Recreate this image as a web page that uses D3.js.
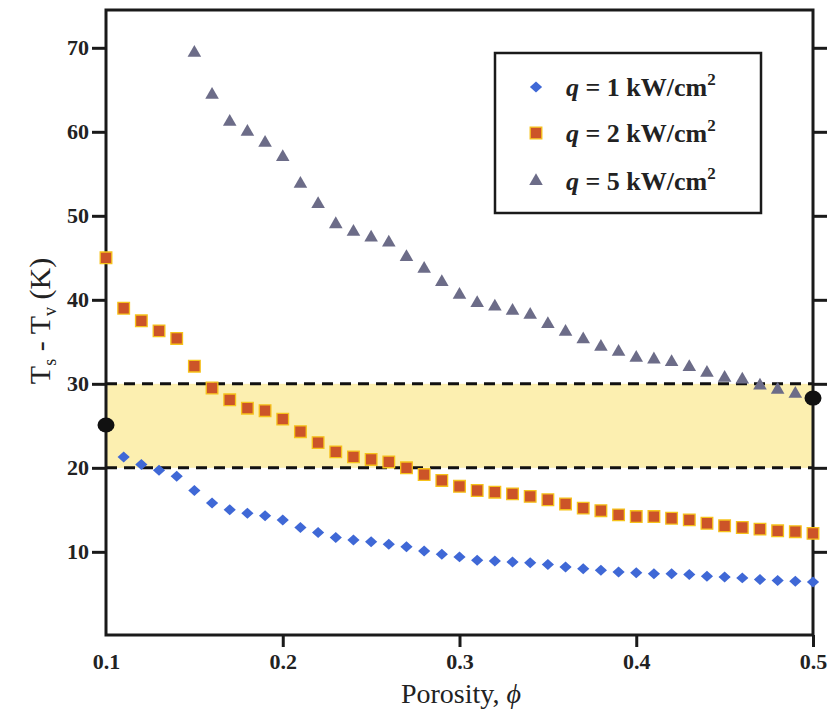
<!DOCTYPE html>
<html><head><meta charset="utf-8">
<script src="https://cdn.jsdelivr.net/npm/d3@7"></script>
<style>body{margin:0;background:#fff}</style>
</head><body>
<script>
const porosity1 = [0.11,0.12,0.13,0.14,0.15,0.16,0.17,0.18,0.19,0.20,0.21,0.22,0.23,0.24,0.25,0.26,0.27,0.28,0.29,0.30,0.31,0.32,0.33,0.34,0.35,0.36,0.37,0.38,0.39,0.40,0.41,0.42,0.43,0.44,0.45,0.46,0.47,0.48,0.49,0.50];
const q1 = [21.3,20.4,19.7,19.0,17.3,15.8,15.0,14.6,14.3,13.8,12.9,12.3,11.7,11.4,11.2,10.9,10.6,10.1,9.7,9.4,9.0,8.9,8.8,8.7,8.5,8.2,8.0,7.8,7.6,7.5,7.4,7.4,7.3,7.1,7.0,6.9,6.7,6.6,6.5,6.4];
const porosity2 = [0.10,0.11,0.12,0.13,0.14,0.15,0.16,0.17,0.18,0.19,0.20,0.21,0.22,0.23,0.24,0.25,0.26,0.27,0.28,0.29,0.30,0.31,0.32,0.33,0.34,0.35,0.36,0.37,0.38,0.39,0.40,0.41,0.42,0.43,0.44,0.45,0.46,0.47,0.48,0.49,0.50];
const q2 = [45.0,39.0,37.5,36.3,35.4,32.1,29.5,28.1,27.1,26.8,25.8,24.3,23.0,21.9,21.3,21.0,20.7,20.0,19.2,18.5,17.8,17.3,17.1,16.9,16.6,16.2,15.7,15.2,14.9,14.4,14.2,14.2,14.0,13.8,13.4,13.1,12.9,12.7,12.5,12.4,12.2];
const porosity5 = [0.15,0.16,0.17,0.18,0.19,0.20,0.21,0.22,0.23,0.24,0.25,0.26,0.27,0.28,0.29,0.30,0.31,0.32,0.33,0.34,0.35,0.36,0.37,0.38,0.39,0.40,0.41,0.42,0.43,0.44,0.45,0.46,0.47,0.48,0.49];
const q5 = [69.4,64.4,61.2,60.0,58.7,57.0,53.8,51.4,49.0,48.1,47.4,46.8,45.1,43.7,42.1,40.6,39.6,39.2,38.7,38.2,37.1,36.2,35.3,34.4,33.8,33.1,32.9,32.6,32.0,31.3,30.7,30.5,29.8,29.3,28.8];
const bandRange = [20, 30];
const endPointsX = [0.1, 0.5];
const endPointsY = [25.1, 28.3];
const xTicks = [0.1, 0.2, 0.3, 0.4, 0.5];
const yTicks = [10, 20, 30, 40, 50, 60, 70];
const legendLabels = ["1", "2", "5"];

const W = 831, H = 710;
const L = 106, R = 813, T = 10, B = 635;
const svg = d3.select("body").append("svg").attr("width", W).attr("height", H);
const x = d3.scaleLinear().domain([0.1, 0.5]).range([L, R]);
const y = d3.scaleLinear().domain([0.1, 74.5]).range([B, T]);
const serif = "'Liberation Serif','Times New Roman',serif";

// band
svg.append("rect").attr("x", x(0.1)).attr("y", y(bandRange[1])).attr("width", x(0.5) - x(0.1))
  .attr("height", y(bandRange[0]) - y(bandRange[1])).attr("fill", "#fcefb0");

// dashed lines
bandRange.forEach(v => {
  svg.append("line").attr("x1", x(0.1)).attr("x2", x(0.5)).attr("y1", y(v)).attr("y2", y(v))
    .attr("stroke", "#111").attr("stroke-width", 3).attr("stroke-dasharray", "11,7");
});

// frame
svg.append("rect").attr("x", L).attr("y", T).attr("width", R - L).attr("height", B - T)
  .attr("fill", "none").attr("stroke", "#1a1a1a").attr("stroke-width", 3);

// axes
const yAxisL = svg.append("g").attr("transform", `translate(${L},0)`)
  .call(d3.axisLeft(y).tickValues(yTicks).tickSize(14).tickPadding(3).tickFormat(d3.format("d")));
const yAxisR = svg.append("g").attr("transform", `translate(${R},0)`)
  .call(d3.axisRight(y).tickValues(yTicks).tickSize(14).tickFormat(""));
const xAxis = svg.append("g").attr("transform", `translate(0,${B})`)
  .call(d3.axisBottom(x).tickValues(xTicks).tickSize(12).tickPadding(6).tickFormat(d3.format(".1f")));
[yAxisL, yAxisR, xAxis].forEach(g => {
  g.select(".domain").remove();
  g.selectAll(".tick line").attr("stroke", "#1a1a1a").attr("stroke-width", 3);
  g.selectAll("text").attr("font-family", serif).attr("font-weight", "bold").attr("font-size", 22).attr("fill", "#222");
});
xAxis.selectAll(".tick line").filter(d => d === 0.1).remove();

// series
const ptsBlue = porosity1.map((p, i) => [p, q1[i]]);
const ptsOrange = porosity2.map((p, i) => [p, q2[i]]);
const ptsGrey = porosity5.map((p, i) => [p, q5[i]]);
const diamond = d3.symbol().type(d3.symbolDiamond2).size(95);
const square = d3.symbol().type(d3.symbolSquare).size(135);
const tri = d3.symbol().type(d3.symbolTriangle).size(80);

function drawBlue(g, pts) {
  g.selectAll(null).data(pts).enter().append("path").attr("d", diamond)
    .attr("transform", d => `translate(${x(d[0])},${y(d[1])}) scale(1,0.9)`).attr("fill", "#3f68d6");
}
function drawOrange(g, pts) {
  g.selectAll(null).data(pts).enter().append("path").attr("d", square)
    .attr("transform", d => `translate(${x(d[0])},${y(d[1])})`)
    .attr("fill", "#cc5428").attr("stroke", "#f6c21a").attr("stroke-width", 1.3);
}
function drawGrey(g, pts) {
  g.selectAll(null).data(pts).enter().append("path").attr("d", tri)
    .attr("transform", d => `translate(${x(d[0])},${y(d[1])})`).attr("fill", "#6c6c88");
}
drawBlue(svg.append("g"), ptsBlue);
drawOrange(svg.append("g"), ptsOrange);
drawGrey(svg.append("g"), ptsGrey);

// black end points
endPointsX.forEach((p, i) => {
  svg.append("ellipse").attr("cx", x(p)).attr("cy", y(endPointsY[i])).attr("rx", 8.5).attr("ry", 7.5).attr("fill", "#111");
});

// legend
const lg = svg.append("g");
lg.append("rect").attr("x", 495).attr("y", 53).attr("width", 266).attr("height", 160)
  .attr("fill", "#fff").attr("stroke", "#1a1a1a").attr("stroke-width", 2.5);
const legY = [87, 133, 181];
drawBlue(lg, [[x.invert(536), y.invert(legY[0])]]);
drawOrange(lg, [[x.invert(536), y.invert(legY[1])]]);
drawGrey(lg, [[x.invert(536), y.invert(legY[2])]]);
legendLabels.forEach((lab, i) => {
  const t = lg.append("text").attr("x", 566).attr("y", legY[i] + 9).attr("font-family", serif)
    .attr("font-weight", "bold").attr("font-size", 26).attr("fill", "#222");
  t.append("tspan").attr("font-style", "italic").text("q");
  t.append("tspan").text(` = ${lab} kW/cm`);
  t.append("tspan").attr("font-size", 17).attr("dy", -11).text("2");
});

// axis titles
svg.append("text").attr("x", 461).attr("y", 703).attr("text-anchor", "middle")
  .attr("font-family", serif).attr("font-size", 28).attr("fill", "#222")
  .text("Porosity, ").append("tspan").attr("font-style", "italic").text("ϕ");

const yt = svg.append("text").attr("transform", "translate(50,321) rotate(-90)").attr("text-anchor", "middle")
  .attr("font-family", serif).attr("font-size", 30).attr("fill", "#222");
yt.append("tspan").text("T");
yt.append("tspan").attr("font-size", 18).attr("dy", 6).text("s");
yt.append("tspan").attr("dy", -6).text(" - T");
yt.append("tspan").attr("font-size", 18).attr("dy", 6).text("v");
yt.append("tspan").attr("dy", -6).text(" (K)");
</script>
</body></html>
